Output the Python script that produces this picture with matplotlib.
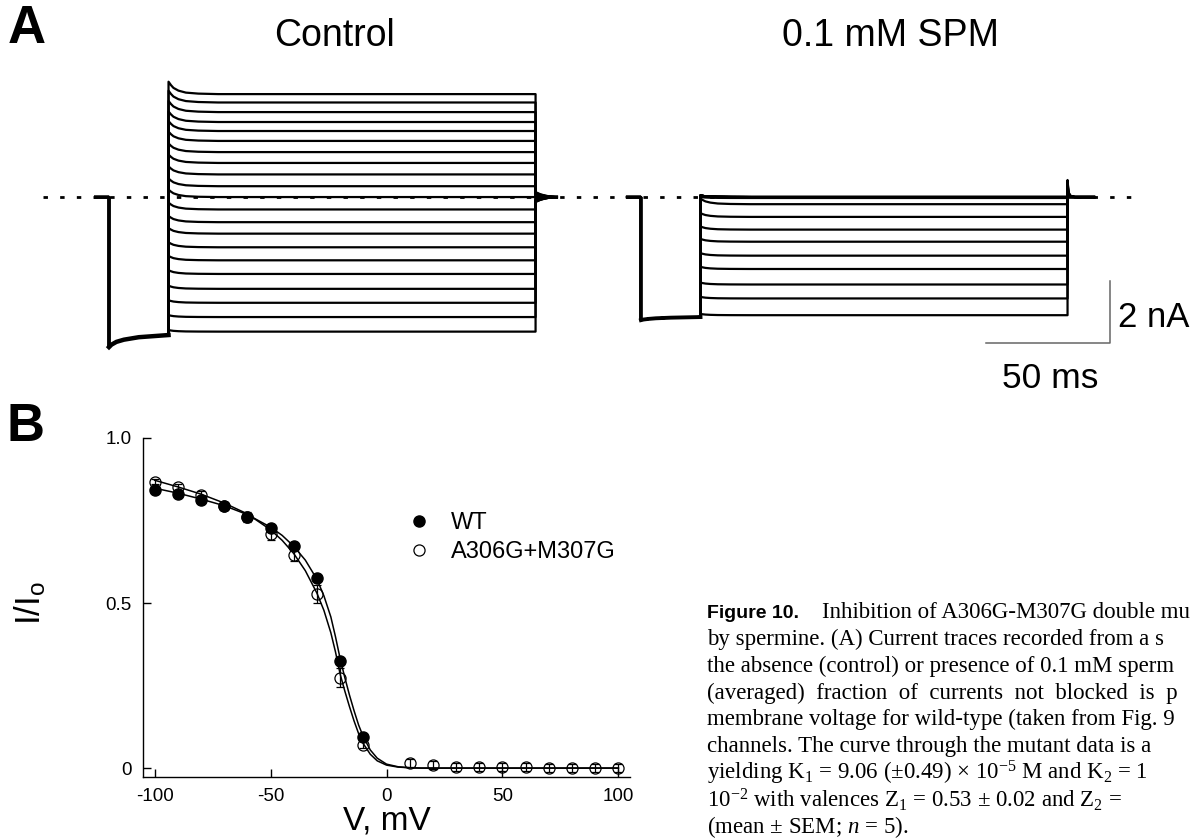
import matplotlib.pyplot as plt
from matplotlib.lines import Line2D

plt.rcParams['font.family'] = ['Liberation Sans', 'DejaVu Sans']
plt.rcParams['axes.unicode_minus'] = False
plt.rcParams['mathtext.fontset'] = 'custom'
plt.rcParams['mathtext.rm'] = 'Liberation Serif'
plt.rcParams['mathtext.it'] = 'Liberation Serif:italic'

W, H = 1197, 839

# ---- panel A: currents (nA) at the end of each test step, +100 ... -100 mV
step_mv = [100, 90, 80, 70, 60, 50, 40, 30, 20, 10, 0,
           -10, -20, -30, -40, -50, -60, -70, -80, -90, -100]
ctrl_level = [3.32, 3.05, 2.74, 2.42, 2.13, 1.81, 1.45, 1.10, 0.73, 0.35, 0.0,
              -0.40, -0.81, -1.18, -1.62, -2.04, -2.48, -2.96, -3.41, -3.87, -4.34]
ctrl_over = [0.40, 0.38, 0.36, 0.34, 0.32, 0.30, 0.28, 0.27, 0.26, 0.25, 0.24,
             0.22, 0.20, 0.18, 0.16, 0.14, 0.12, 0.10, 0.08, 0.06, 0.05]
ctrl_tail = [0.16, 0.14, 0.12, 0.10, 0.08, 0.06, 0.05, 0.03, 0.02, 0.01, 0.0,
             -0.02, -0.04, -0.06, -0.08, -0.10, -0.12, -0.13, -0.14, -0.15, -0.16]
spm_level = [0.0, 0.0, 0.0, 0.0, 0.0, 0.0, 0.0, 0.0, 0.0, 0.0, 0.0,
             -0.03, -0.23, -0.64, -1.05, -1.44, -1.89, -2.32, -2.82, -3.27, -3.81]
spm_over = [0.05, 0.05, 0.05, 0.05, 0.05, 0.05, 0.05, 0.05, 0.05, 0.04, 0.04,
            0.03, 0.18, 0.12, 0.10, 0.09, 0.08, 0.07, 0.06, 0.05, 0.04]
spm_tail = [0.55, 0.50, 0.45, 0.40, 0.35, 0.30, 0.25, 0.20, 0.15, 0.10, 0.05,
            0.0, 0.0, 0.0, 0.0, 0.0, 0.0, 0.0, 0.0, 0.0, 0.0]

# prepulse (same for every sweep)
pre_t = [0, 1, 3, 6, 12, 24]
ctrl_pre = [-4.84, -4.76, -4.67, -4.60, -4.52, -4.45]
spm_pre = [-3.97, -3.95, -3.93, -3.91, -3.89, -3.87]

# relaxation at the start of the step, fraction of overshoot left
relax_t = [0, 1, 2, 4, 7, 12, 20]
relax_frac = [1.0, 0.72, 0.5, 0.28, 0.12, 0.04, 0.0]
ctrl_tail_t = [0, 2, 4, 6, 8.5]
ctrl_tail_frac = [1.0, 0.55, 0.28, 0.1, 0.0]
spm_tail_t = [0, 0.4, 1, 2, 3]
spm_tail_frac = [1.0, 0.3, 0.1, 0.03, 0.0]

HOLD_MS = 5.6
PRE_MS = 24
STEP_MS = 148
SPM_T0 = 214.5

# ---- panel B: fraction unblocked
wt_v = [-100, -90, -80, -70, -60, -50, -40, -30, -20, -10]
wt_frac = [0.843, 0.831, 0.811, 0.793, 0.760, 0.727, 0.674, 0.577, 0.324, 0.094]
mut_v = [-100, -90, -80, -70, -60, -50, -40, -30, -20, -10,
         10, 20, 30, 40, 50, 60, 70, 80, 90, 100]
mut_frac = [0.868, 0.851, 0.826, 0.795, 0.762, 0.708, 0.646, 0.527, 0.274, 0.071,
            0.016, 0.008, 0.004, 0.003, 0.002, 0.002, 0.001, 0.001, 0.001, 0.001]
mut_sem = [0.008, 0.010, 0.012, 0.012, 0.015, 0.017, 0.020, 0.028, 0.028, 0.010,
           0.012, 0.012, 0.012, 0.012, 0.012, 0.012, 0.012, 0.012, 0.012, 0.012]

fit_v = [-100, -90, -80, -70, -60, -50, -45, -40, -35, -30, -27, -24, -22, -20,
         -18, -16, -14, -12, -10, -7, -4, 0, 5, 10, 15, 100]
fit_wt = [0.848, 0.833, 0.815, 0.795, 0.768, 0.730, 0.705, 0.672, 0.630, 0.572,
          0.522, 0.458, 0.398, 0.332, 0.275, 0.222, 0.174, 0.130, 0.095, 0.055,
          0.030, 0.012, 0.004, 0.001, 0.0, 0.0]
fit_mut = [0.872, 0.852, 0.830, 0.803, 0.770, 0.722, 0.690, 0.650, 0.598, 0.530,
           0.478, 0.410, 0.352, 0.285, 0.234, 0.187, 0.143, 0.104, 0.074, 0.042,
           0.022, 0.009, 0.003, 0.001, 0.0, 0.0]


def fx(x):
    return x / W


def fy(y):
    return 1 - y / H


def trace(t0, pre, level, over, tail, tail_t, tail_frac, hold_after):
    ts = [t0 - HOLD_MS, t0]
    ys = [0.0, 0.0]
    for t, p in zip(pre_t, pre):
        ts.append(t0 + t)
        ys.append(p)
    ton = t0 + PRE_MS
    for t, f in zip(relax_t, relax_frac):
        ts.append(ton + t)
        ys.append(level + over * f)
    toff = ton + STEP_MS
    ts.append(toff)
    ys.append(level)
    for t, f in zip(tail_t, tail_frac):
        ts.append(toff + t)
        ys.append(tail * f)
    ts.append(toff + hold_after)
    ys.append(0.0)
    return ts, ys


fig = plt.figure(figsize=(W / 100, H / 100), dpi=100)

# ---------------- panel A ----------------
axa = fig.add_axes([0, fy(420), 1, 420 / H])
axa.set_xlim(-43.95, 438.7)
axa.set_ylim(-7.19, 6.355)
axa.axis('off')

axa.plot([-26.6, 416], [0, 0], color='k', lw=2, dashes=(1.6, 4.4), zorder=1)

for k in range(len(step_mv)):
    ts, ys = trace(0, ctrl_pre, ctrl_level[k], ctrl_over[k], ctrl_tail[k],
                   ctrl_tail_t, ctrl_tail_frac, 8.6)
    axa.plot(ts, ys, color='k', lw=1.6, solid_joinstyle='round', zorder=2)
    ts, ys = trace(SPM_T0, spm_pre, spm_level[k], spm_over[k], spm_tail[k],
                   spm_tail_t, spm_tail_frac, 10.7)
    axa.plot(ts, ys, color='k', lw=1.6, solid_joinstyle='round', zorder=2)

axa.plot(pre_t, ctrl_pre, color='k', lw=3.2, zorder=3)
axa.plot([SPM_T0 + t for t in pre_t], spm_pre, color='k', lw=2.8, zorder=3)

# scale bar: 2 nA, 50 ms
sb_t, sb_i = 403.6, -4.71
axa.plot([sb_t - 50, sb_t, sb_t], [sb_i, sb_i, sb_i + 2], color='#666666', lw=1.1)

fig.text(fx(8), fy(29), 'A', fontsize=38, fontweight='bold', va='center', ha='left')
fig.text(fx(334), fy(36), 'Control', fontsize=27, va='center', ha='center')
fig.text(fx(891), fy(36), '0.1 mM SPM', fontsize=27, va='center', ha='center')
fig.text(fx(1118), fy(318), '2 nA', fontsize=25, va='center', ha='left')
fig.text(fx(1050), fy(379), '50 ms', fontsize=25.5, va='center', ha='center')

# ---------------- panel B ----------------
fig.text(fx(7), fy(427), 'B', fontsize=38, fontweight='bold', va='center', ha='left')

axb = fig.add_axes([fx(143), fy(777), 487 / W, 339 / H])
axb.plot(fit_v, fit_wt, color='k', lw=1.1)
axb.plot(fit_v, fit_mut, color='k', lw=1.1)
axb.errorbar(mut_v, mut_frac, yerr=mut_sem, fmt='o', ms=8, mfc='none',
             mec='k', mew=0.9, ecolor='k', elinewidth=0.9, capsize=3,
             capthick=0.9, zorder=4)
wt_line, = axb.plot(wt_v, wt_frac, 'o', ms=8, color='k', zorder=3)

axb.set_xlim(-105, 105)
axb.set_ylim(-0.027, 1.0)
axb.set_xticks([-100, -50, 0, 50, 100])
axb.set_yticks([0, 0.5, 1.0])
axb.set_yticklabels(['0', '0.5', '1.0'])
axb.tick_params(direction='in', length=6, width=1, labelsize=13.5, pad=8)
for s in ['top', 'right']:
    axb.spines[s].set_visible(False)
for s in ['left', 'bottom']:
    axb.spines[s].set_linewidth(1)

axb.set_xlabel('V, mV', fontsize=24, labelpad=0)
fig.text(fx(30), fy(603), r'I/I$_\mathregular{o}$', fontsize=25, rotation=90,
         va='center', ha='center')

open_h = Line2D([], [], ls='none', marker='o', ms=8, mfc='none', mec='k', mew=0.9)
axb.legend([wt_line, open_h], ['WT', 'A306G+M307G'], loc='upper left',
           bbox_to_anchor=(fx(407), fy(512)), bbox_transform=fig.transFigure,
           frameon=False, fontsize=17, handlelength=1.0, handletextpad=0.88,
           borderpad=0, borderaxespad=0, labelspacing=0.3, numpoints=1)

# ---------------- caption ----------------
cap_x = 707
cap_y0 = 613
cap_dy = 26.7
fig.text(fx(cap_x), fy(cap_y0), 'Figure 10.', fontsize=14, fontweight='bold',
         va='center', ha='left')
cap_lines = [
    'Inhibition of A306G-M307G double mu',
    'by spermine. (A) Current traces recorded from a s',
    'the absence (control) or presence of 0.1 mM sperm',
    '(averaged)  fraction  of  currents  not  blocked  is  p',
    'membrane voltage for wild-type (taken from Fig. 9',
    'channels. The curve through the mutant data is a',
    r'yielding K$_\mathregular{1}$ = 9.06 (±0.49) × 10$^{\mathregular{−5}}$ M and K$_\mathregular{2}$ = 1',
    r'10$^{\mathregular{−2}}$ with valences Z$_\mathregular{1}$ = 0.53 ± 0.02 and Z$_\mathregular{2}$ =',
    r'(mean ± SEM; $\it{n}$ = 5).',
]
for i, line in enumerate(cap_lines):
    x0 = 822 if i == 0 else cap_x
    fig.text(fx(x0), fy(cap_y0 + i * cap_dy), line, fontsize=16.5,
             family='Liberation Serif', va='center', ha='left')

fig.savefig('out.png', dpi=100)
